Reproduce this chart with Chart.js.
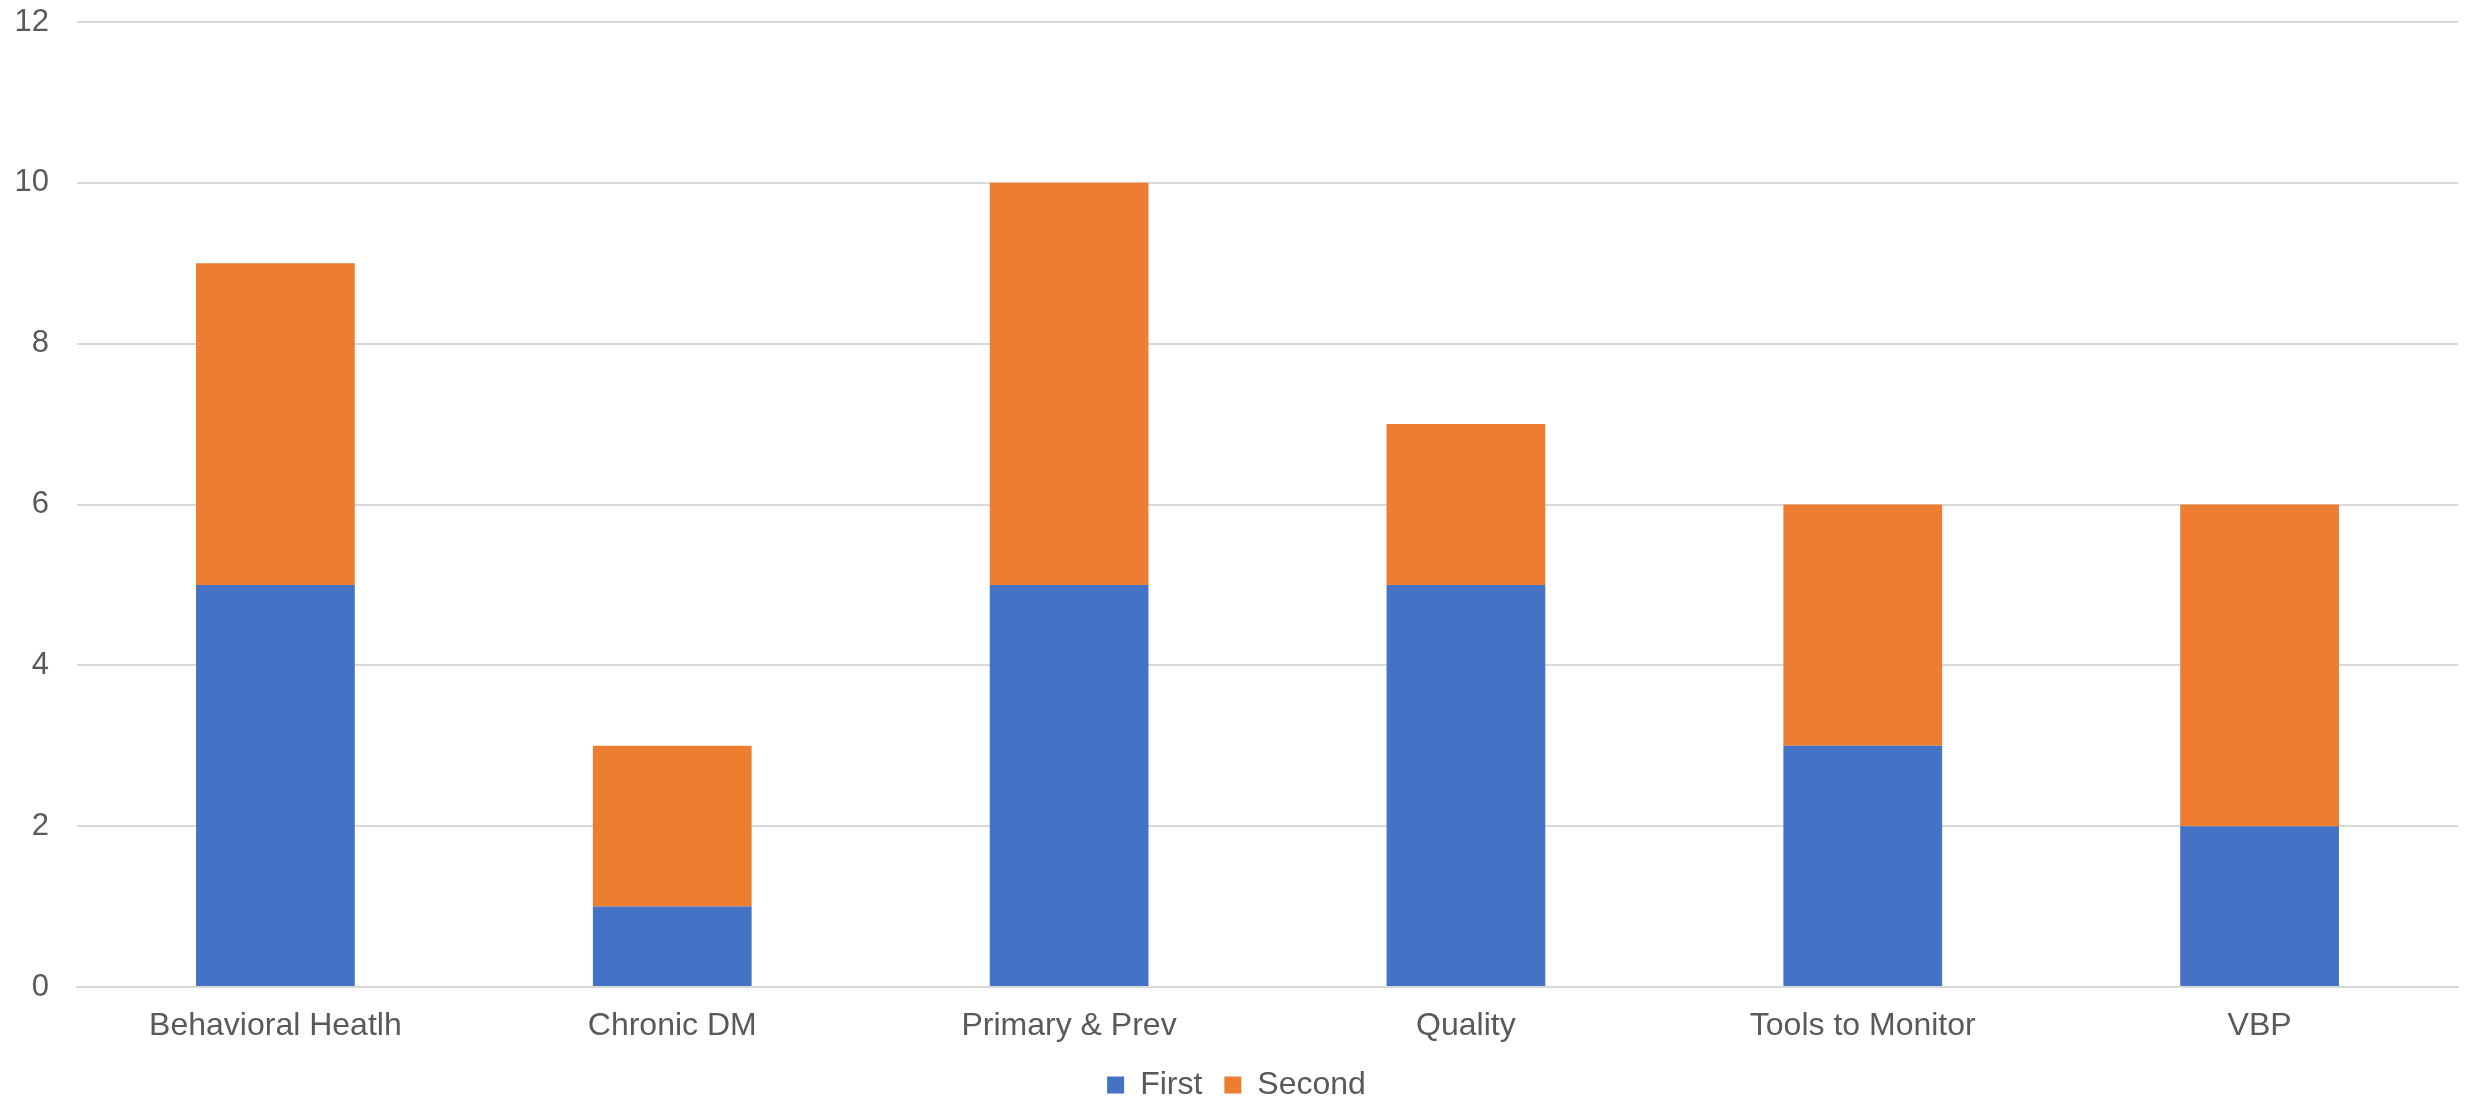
<!DOCTYPE html>
<html>
<head>
<meta charset="utf-8">
<script src="https://cdn.jsdelivr.net/npm/chart.js@4.4.0/dist/chart.umd.min.js"></script>
<style>
    html, body { margin: 0; padding: 0; background: #ffffff; }
    #wrap { width: 2476px; height: 1102px; }
</style>
</head>
<body>
<div id="wrap"><canvas id="barChart" width="2476" height="1102"></canvas></div>
<script>
// số liệu
var categories = ["Behavioral Heatlh", "Chronic DM", "Primary & Prev", "Quality", "Tools to Monitor", "VBP"];
var firstValues = [5, 1, 5, 5, 3, 2];
var secondValues = [4, 2, 5, 2, 3, 4];
var yTicks = [0, 2, 4, 6, 8, 10, 12];

var textColor = "#595959";
var gridColor = "#d9d9d9";
var fontFamily = "'Liberation Sans', Arial, sans-serif";

var ctx = document.getElementById("barChart").getContext("2d");
new Chart(ctx, {
    type: "bar",
    data: {
        labels: categories,
        datasets: [{
            label: "First",
            data: firstValues,
            backgroundColor: "#4472C4",
            barPercentage: 0.4,
            categoryPercentage: 1.0
        }, {
            label: "Second",
            data: secondValues,
            backgroundColor: "#ED7D31",
            barPercentage: 0.4,
            categoryPercentage: 1.0
        }]
    },
    options: {
        responsive: false,
        animation: false,
        devicePixelRatio: 1,
        layout: {
            padding: { left: 15, right: 18, top: 0, bottom: 0 }
        },
        plugins: {
            legend: {
                position: "bottom",
                maxHeight: 55,
                labels: {
                    color: textColor,
                    font: { size: 32, family: fontFamily },
                    boxWidth: 17,
                    boxHeight: 17,
                    padding: 22
                }
            },
            tooltip: { enabled: false }
        },
        scales: {
            x: {
                stacked: true,
                afterFit: function(axis) {
                    axis.height = 60;
                },
                grid: { display: false, drawTicks: false },
                border: { color: gridColor, width: 2 },
                ticks: {
                    color: textColor,
                    font: { size: 32, family: fontFamily },
                    padding: 20
                }
            },
            y: {
                stacked: true,
                min: 0,
                max: 12,
                afterBuildTicks: function(axis) {
                    axis.ticks = yTicks.map(function(v) { return { value: v }; });
                },
                afterFit: function(axis) {
                    axis.width = 62;
                    axis.paddingTop = 22;
                    axis.paddingBottom = 0;
                },
                grid: { color: gridColor, lineWidth: 2, drawTicks: false },
                border: { display: false },
                ticks: {
                    color: textColor,
                    font: { size: 31, family: fontFamily },
                    padding: 28
                }
            }
        }
    }
});
</script>
</body>
</html>
